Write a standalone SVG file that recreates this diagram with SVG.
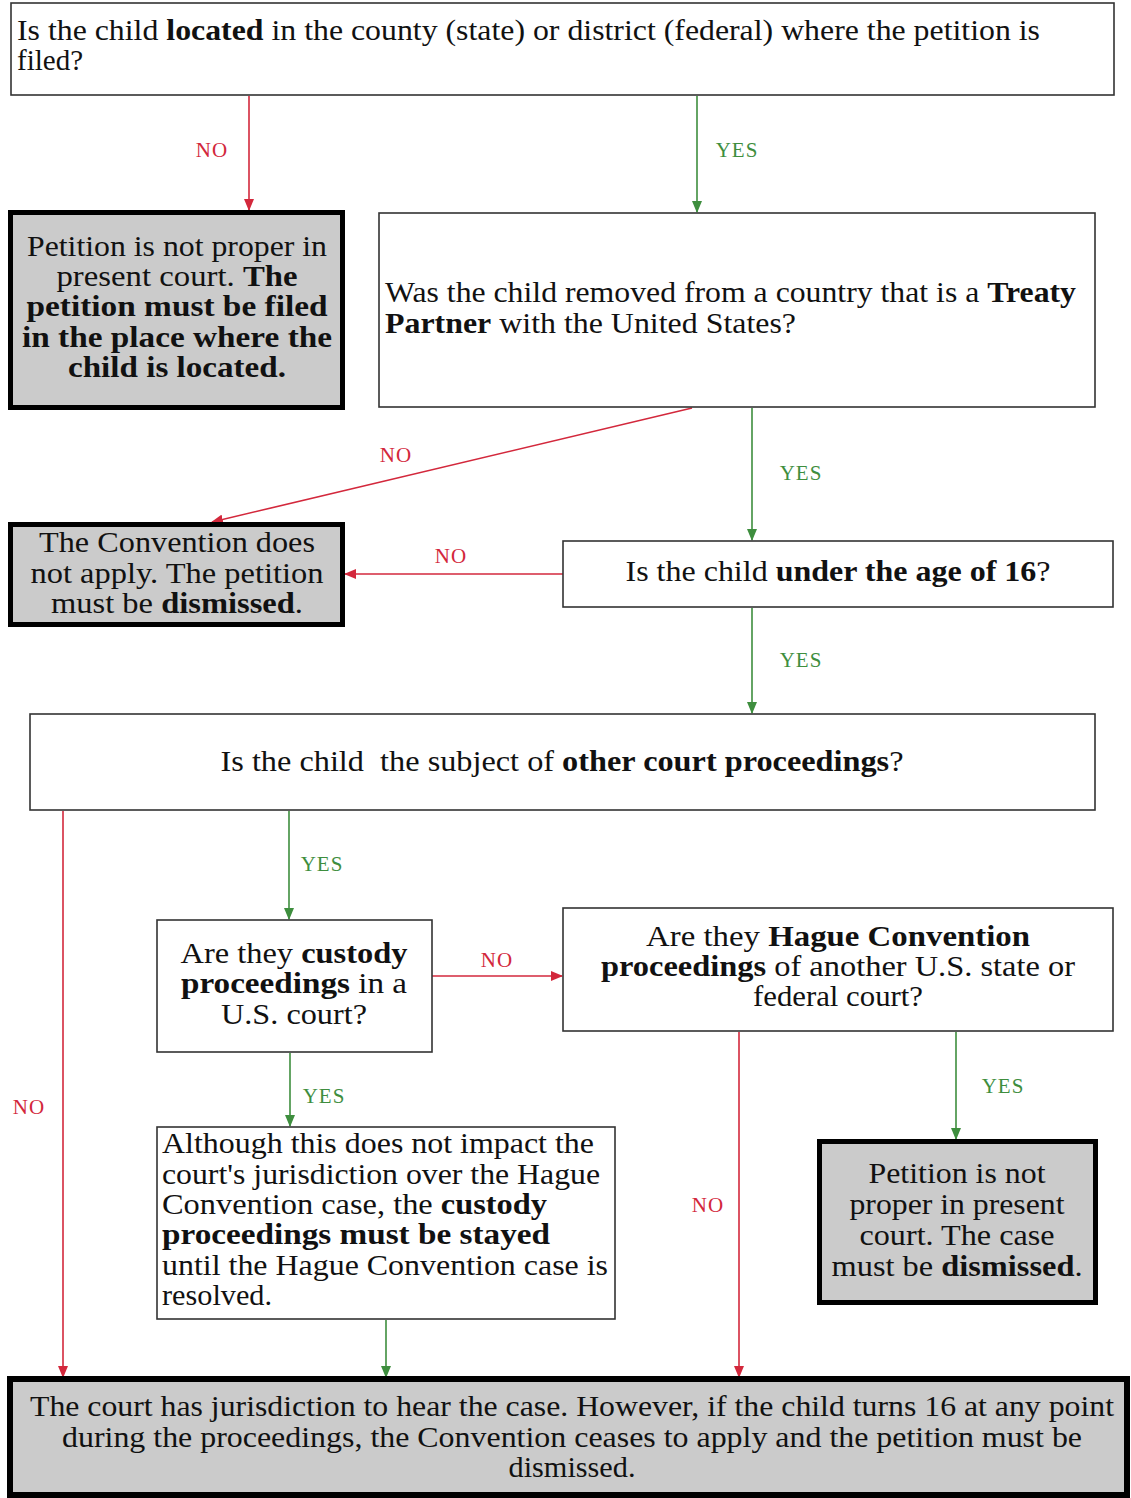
<svg xmlns="http://www.w3.org/2000/svg" width="1131" height="1498" viewBox="0 0 1131 1498">
<style>
.t{font-family:"Liberation Serif","DejaVu Serif",serif;font-size:29px;fill:#111}
.c{text-anchor:middle}
.b{font-weight:bold}
.thin{fill:#fff;stroke:#333;stroke-width:1.6}
.thick{fill:#cbcbcb;stroke:#000;stroke-width:5}
.r{stroke:#d3283c;stroke-width:1.6;fill:none}
.g{stroke:#3e8e3e;stroke-width:1.6;fill:none}
.lr{font-family:"Liberation Serif","DejaVu Serif",serif;font-size:21px;fill:#d3283c;text-anchor:middle;letter-spacing:1px}
.lg{font-family:"Liberation Serif","DejaVu Serif",serif;font-size:21px;fill:#3e8e3e;text-anchor:middle;letter-spacing:1px}
</style>
<defs>
<marker id="ar" markerUnits="userSpaceOnUse" markerWidth="12" markerHeight="10" refX="11" refY="5" orient="auto"><path d="M0,0 L12,5 L0,10 Z" fill="#d3283c"/></marker>
<marker id="ag" markerUnits="userSpaceOnUse" markerWidth="12" markerHeight="10" refX="11" refY="5" orient="auto"><path d="M0,0 L12,5 L0,10 Z" fill="#3e8e3e"/></marker>
</defs>
<rect width="1131" height="1498" fill="#fff"/>

<g id="connectors">
<line class="r" x1="249" y1="96" x2="249" y2="210" marker-end="url(#ar)"/>
<line class="g" x1="697" y1="96" x2="697" y2="212" marker-end="url(#ag)"/>
<line class="r" x1="692" y1="408" x2="212" y2="522" marker-end="url(#ar)"/>
<line class="g" x1="752" y1="408" x2="752" y2="540" marker-end="url(#ag)"/>
<line class="r" x1="563" y1="574" x2="345" y2="574" marker-end="url(#ar)"/>
<line class="g" x1="752" y1="608" x2="752" y2="713" marker-end="url(#ag)"/>
<line class="r" x1="63" y1="811" x2="63" y2="1377" marker-end="url(#ar)"/>
<line class="g" x1="289" y1="811" x2="289" y2="919" marker-end="url(#ag)"/>
<line class="r" x1="432" y1="976" x2="562" y2="976" marker-end="url(#ar)"/>
<line class="g" x1="290" y1="1053" x2="290" y2="1126" marker-end="url(#ag)"/>
<line class="r" x1="739" y1="1032" x2="739" y2="1377" marker-end="url(#ar)"/>
<line class="g" x1="956" y1="1032" x2="956" y2="1139" marker-end="url(#ag)"/>
<line class="g" x1="386" y1="1320" x2="386" y2="1377" marker-end="url(#ag)"/>
<text class="lr" x="212" y="157">NO</text>
<text class="lg" x="737" y="157">YES</text>
<text class="lr" x="396" y="462">NO</text>
<text class="lg" x="801" y="480">YES</text>
<text class="lr" x="451" y="563">NO</text>
<text class="lg" x="801" y="667">YES</text>
<text class="lg" x="322" y="871">YES</text>
<text class="lr" x="29" y="1114">NO</text>
<text class="lr" x="497" y="967">NO</text>
<text class="lg" x="324" y="1103">YES</text>
<text class="lg" x="1003" y="1093">YES</text>
<text class="lr" x="708" y="1212">NO</text>
</g>

<g id="q-located">
<rect class="thin" x="11" y="3" width="1103" height="92"/>
<text class="t" x="17" y="40" textLength="1023" lengthAdjust="spacingAndGlyphs">Is the child <tspan class="b">located</tspan> in the county (state) or district (federal) where the petition is</text>
<text class="t" x="17" y="70" textLength="66" lengthAdjust="spacingAndGlyphs">filed?</text>
</g>

<g id="end-not-proper">
<rect class="thick" x="10.5" y="212.5" width="332" height="195"/>
<text class="t c" x="177" y="256" textLength="300" lengthAdjust="spacingAndGlyphs">Petition is not proper in</text>
<text class="t c" x="177" y="286" textLength="241" lengthAdjust="spacingAndGlyphs">present court. <tspan class="b">The</tspan></text>
<text class="t c b" x="177" y="316" textLength="301" lengthAdjust="spacingAndGlyphs">petition must be filed</text>
<text class="t c b" x="177" y="347" textLength="310" lengthAdjust="spacingAndGlyphs">in the place where the</text>
<text class="t c b" x="177" y="377" textLength="218" lengthAdjust="spacingAndGlyphs">child is located.</text>
</g>

<g id="q-treaty">
<rect class="thin" x="379" y="213" width="716" height="194"/>
<text class="t" x="385" y="302" textLength="691" lengthAdjust="spacingAndGlyphs">Was the child removed from a country that is a <tspan class="b">Treaty</tspan></text>
<text class="t" x="385" y="333" textLength="411" lengthAdjust="spacingAndGlyphs"><tspan class="b">Partner</tspan> with the United States?</text>
</g>

<g id="end-not-apply">
<rect class="thick" x="10.5" y="524.5" width="332" height="100"/>
<text class="t c" x="177" y="552" textLength="276" lengthAdjust="spacingAndGlyphs">The Convention does</text>
<text class="t c" x="177" y="583" textLength="293" lengthAdjust="spacingAndGlyphs">not apply. The petition</text>
<text class="t c" x="177" y="613" textLength="252" lengthAdjust="spacingAndGlyphs">must be <tspan class="b">dismissed</tspan>.</text>
</g>

<g id="q-age">
<rect class="thin" x="563" y="541" width="550" height="66"/>
<text class="t c" x="838" y="581" textLength="425" lengthAdjust="spacingAndGlyphs">Is the child <tspan class="b">under the age of 16</tspan>?</text>
</g>

<g id="q-other">
<rect class="thin" x="30" y="714" width="1065" height="96"/>
<text class="t c" x="562" y="771" xml:space="preserve" textLength="683" lengthAdjust="spacingAndGlyphs">Is the child  the subject of <tspan class="b">other court proceedings</tspan>?</text>
</g>

<g id="q-custody">
<rect class="thin" x="157" y="920" width="275" height="132"/>
<text class="t c" x="294" y="963" textLength="227" lengthAdjust="spacingAndGlyphs">Are they <tspan class="b">custody</tspan></text>
<text class="t c" x="294" y="993" textLength="226" lengthAdjust="spacingAndGlyphs"><tspan class="b">proceedings</tspan> in a</text>
<text class="t c" x="294" y="1024" textLength="146" lengthAdjust="spacingAndGlyphs">U.S. court?</text>
</g>

<g id="q-hague">
<rect class="thin" x="563" y="908" width="550" height="123"/>
<text class="t c" x="838" y="946" textLength="384" lengthAdjust="spacingAndGlyphs">Are they <tspan class="b">Hague Convention</tspan></text>
<text class="t c" x="838" y="976" textLength="474" lengthAdjust="spacingAndGlyphs"><tspan class="b">proceedings</tspan> of another U.S. state or</text>
<text class="t c" x="838" y="1006" textLength="170" lengthAdjust="spacingAndGlyphs">federal court?</text>
</g>

<g id="stay">
<rect class="thin" x="157" y="1127" width="458" height="192"/>
<text class="t" x="162" y="1153" textLength="432" lengthAdjust="spacingAndGlyphs">Although this does not impact the</text>
<text class="t" x="162" y="1184" textLength="438" lengthAdjust="spacingAndGlyphs">court's jurisdiction over the Hague</text>
<text class="t" x="162" y="1214" textLength="385" lengthAdjust="spacingAndGlyphs">Convention case, the <tspan class="b">custody</tspan></text>
<text class="t b" x="162" y="1244" textLength="388" lengthAdjust="spacingAndGlyphs">proceedings must be stayed</text>
<text class="t" x="162" y="1275" textLength="446" lengthAdjust="spacingAndGlyphs">until the Hague Convention case is</text>
<text class="t" x="162" y="1305" textLength="110" lengthAdjust="spacingAndGlyphs">resolved.</text>
</g>

<g id="end-dismissed">
<rect class="thick" x="819.5" y="1141.5" width="276" height="161"/>
<text class="t c" x="957" y="1183" textLength="177" lengthAdjust="spacingAndGlyphs">Petition is not</text>
<text class="t c" x="957" y="1214" textLength="215" lengthAdjust="spacingAndGlyphs">proper in present</text>
<text class="t c" x="957" y="1245" textLength="195" lengthAdjust="spacingAndGlyphs">court. The case</text>
<text class="t c" x="957" y="1276" textLength="251" lengthAdjust="spacingAndGlyphs">must be <tspan class="b">dismissed</tspan>.</text>
</g>

<g id="end-jurisdiction">
<rect x="10" y="1379" width="1117" height="116" fill="#cbcbcb" stroke="#000" stroke-width="6"/>
<text class="t c" x="572" y="1416" textLength="1084" lengthAdjust="spacingAndGlyphs">The court has jurisdiction to hear the case. However, if the child turns 16 at any point</text>
<text class="t c" x="572" y="1447" textLength="1020" lengthAdjust="spacingAndGlyphs">during the proceedings, the Convention ceases to apply and the petition must be</text>
<text class="t c" x="572" y="1477" textLength="127" lengthAdjust="spacingAndGlyphs">dismissed.</text>
</g>
</svg>
